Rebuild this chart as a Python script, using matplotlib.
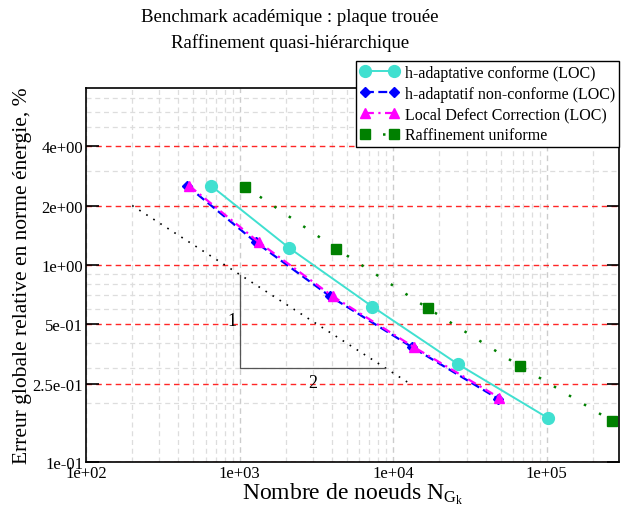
import matplotlib
matplotlib.use("Agg")
import matplotlib.pyplot as plt
from matplotlib.ticker import FixedLocator, FixedFormatter, LogLocator, NullFormatter

plt.rcParams['font.family'] = ['Liberation Serif', 'DejaVu Serif']
plt.rcParams['mathtext.fontset'] = 'custom'
plt.rcParams['mathtext.rm'] = 'Liberation Serif'
plt.rcParams['mathtext.it'] = 'Liberation Serif'

# donnees
n_conf = [652, 2100, 7300, 26500, 102000]
err_conf = [2.52, 1.22, 0.615, 0.313, 0.167]
n_nc = [455, 1280, 3890, 13300, 48300]
err_nc = [2.52, 1.30, 0.692, 0.382, 0.209]
n_ldc = [470, 1340, 4050, 13700, 49000]
err_ldc = [2.52, 1.30, 0.692, 0.382, 0.212]
n_unif = [1090, 4260, 16900, 67100, 267000]
err_unif = [2.49, 1.21, 0.601, 0.306, 0.161]

# pente de reference -1/2 et triangle
ref_n = [200, 12800]
ref_err = [2.0, 0.25]
tri_n = [1000, 1000, 8890]
tri_err = [0.894, 0.3, 0.3]

yticks = [0.1, 0.25, 0.5, 1, 2, 4]
ylabels = ["1e-01", "2.5e-01", "5e-01", "1e+00", "2e+00", "4e+00"]
xticks = [1e2, 1e3, 1e4, 1e5]
xlabels = ["1e+02", "1e+03", "1e+04", "1e+05"]

fig = plt.figure(figsize=(6.21, 5.10), dpi=100)
ax = fig.add_axes([86/621, 47/510, 533/621, 374/510])
ax.set_xscale("log")
ax.set_yscale("log")
ax.set_xlim(100, 2.95e5)
ax.set_ylim(0.1, 7.9)

ax.plot(n_conf, err_conf, color="#40e0d0", lw=1.4, marker="o", ms=8.5,
        label="h-adaptative conforme (LOC)")
ax.plot(n_nc, err_nc, color="blue", lw=1.6, ls=(0, (4, 2)), marker="D", ms=5.5,
        label="h-adaptatif non-conforme (LOC)")
ax.plot(n_ldc, err_ldc, color="magenta", lw=1.6, ls=(0, (4, 2, 1, 2)), marker="^", ms=7.5,
        label="Local Defect Correction (LOC)")
ax.plot(n_unif, err_unif, color="green", lw=1.8, ls=(0, (1, 6)), marker="s", ms=6.5,
        label="Raffinement uniforme")

ax.plot(ref_n, ref_err, color="black", lw=1.2, ls=(0, (1, 4)))
ax.plot(tri_n, tri_err, color="#555555", lw=0.9)
ax.text(960, 0.52, "1", fontsize=13, ha="right", va="center")
ax.text(3000, 0.28, "2", fontsize=13, ha="center", va="top")

ax.yaxis.set_major_locator(FixedLocator(yticks))
ax.yaxis.set_major_formatter(FixedFormatter(ylabels))
ax.yaxis.set_minor_locator(LogLocator(base=10, subs=range(2, 10)))
ax.yaxis.set_minor_formatter(NullFormatter())
ax.xaxis.set_major_locator(FixedLocator(xticks))
ax.xaxis.set_major_formatter(FixedFormatter(xlabels))
ax.xaxis.set_minor_locator(LogLocator(base=10, subs=range(2, 10)))
ax.xaxis.set_minor_formatter(NullFormatter())

ax.grid(which="minor", color="#dddddd", ls=(0, (4, 3)), lw=0.9)
ax.xaxis.grid(which="major", color="#cccccc", ls=(0, (4, 3)), lw=1.0)
ax.yaxis.grid(which="major", color="red", ls=(0, (4, 3)), lw=1.0, alpha=0.85)

ax.tick_params(which="major", direction="in", length=9, width=1.2, labelsize=12,
               left=True, right=True, bottom=False, top=False, pad=2)
ax.tick_params(axis="x", pad=2)
ax.tick_params(which="minor", length=0)
for s in ax.spines.values():
    s.set_linewidth(1.2)
    s.set_zorder(3)

ax.set_xlabel(r"Nombre de noeuds $\mathrm{N_{G_k}}$", fontsize=17, labelpad=0)
ax.set_ylabel("Erreur globale relative en norme énergie, %", fontsize=15.5)
ax.yaxis.set_label_coords(-0.102, 0.5)

fig.text(290/621, 1 - 18/510, "Benchmark académique : plaque trouée", fontsize=13.5,
         ha="center", va="center")
fig.text(290/621, 1 - 43/510, "Raffinement quasi-hiérarchique", fontsize=13.5,
         ha="center", va="center")

leg = ax.legend(loc="upper right", bbox_to_anchor=(1.0, 1.072), fontsize=11.5,
                frameon=True, fancybox=False, edgecolor="black", framealpha=1,
                borderpad=0.25, labelspacing=0.3, handlelength=2.4, handletextpad=0.4,
                borderaxespad=0, numpoints=2)
leg.get_frame().set_linewidth(1.0)

fig.savefig("out.png", dpi=100)
